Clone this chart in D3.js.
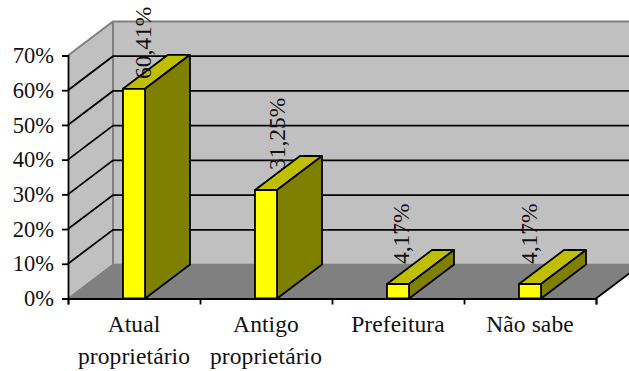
<!DOCTYPE html>
<html lang="pt">
<head>
<meta charset="utf-8">
<title>Gráfico de colunas</title>
<style>
  html, body { margin: 0; padding: 0; background: #fff; }
  svg { display: block; }
  text { font-family: "Liberation Serif", serif; fill: #111; }
  .tick text { font-size: 22.5px; }
  .cat { font-size: 23.5px; letter-spacing: 0.1px; }
  .val { font-size: 23.5px; }
</style>
<script src="https://cdn.jsdelivr.net/npm/d3@7/dist/d3.min.js"></script>
</head>
<body>
<svg id="chart" width="629" height="371"></svg>
<script>
const categories = ["Atual proprietário", "Antigo proprietário", "Prefeitura", "Não sabe"];
const categoryLines = [["Atual", "proprietário"], ["Antigo", "proprietário"], ["Prefeitura"], ["Não sabe"]];
const values = [60.41, 31.25, 4.17, 4.17];
const valueLabels = ["60,41%", "31,25%", "4,17%", "4,17%"];
const yTicks = [0, 10, 20, 30, 40, 50, 60, 70];

const frame = { left: 68, right: 596, top: 55.5, bottom: 298.5 };
const depth = { dx: 45, dy: -34 };
const colors = {
  wall: "#c0c0c0", floor: "#808080", edge: "#808080", ink: "#000",
  barFront: "#ffff00", barTop: "#bfbf00", barSide: "#808000"
};
const lineWidth = 1.8;
// Sideways shift of each value label from its column centre
const labelShift = [17, 19, 11, 7];

const svg = d3.select("#chart");
const y = d3.scaleLinear().domain([0, 70]).range([frame.bottom, frame.top]);
const x = d3.scaleBand().domain(categories).range([frame.left, frame.right])
  .paddingInner(0.833).paddingOuter(0.4165);
const edges = d3.scaleLinear().domain([0, categories.length]).range([frame.left, frame.right]);

const pts = a => a.map(p => p.join(",")).join(" ");
const back = (px, py) => [px + depth.dx, py + depth.dy];
const y0 = y(0), yMax = y(70), xL = frame.left, xR = frame.right;

// Side wall, back wall and floor
svg.append("polygon").attr("points", pts([[xL, y0], [xL, yMax], back(xL, yMax), back(xL, y0)]))
  .attr("fill", colors.wall);
svg.append("polygon").attr("points", pts([back(xL, y0), back(xL, yMax), back(xR, yMax), back(xR, y0)]))
  .attr("fill", colors.wall);
svg.append("polygon").attr("points", pts([[xL, y0], [xR, y0], back(xR, y0), back(xL, y0)]))
  .attr("fill", colors.floor);

// Wall outlines
svg.append("polyline").attr("fill", "none").attr("stroke", colors.edge).attr("stroke-width", 2)
  .attr("points", pts([[xL, yMax], back(xL, yMax), back(xR, yMax)]));
svg.append("line").attr("stroke", colors.edge).attr("stroke-width", 2)
  .attr("x1", back(xL, yMax)[0]).attr("x2", back(xL, y0)[0])
  .attr("y1", back(xL, yMax)[1]).attr("y2", back(xL, y0)[1]);
svg.append("polyline").attr("fill", "none").attr("stroke", colors.edge).attr("stroke-width", 1.5)
  .attr("points", pts([[xL, y0], back(xL, y0), back(xR, y0)]));

// Gridlines run across the side wall and then along the back wall
svg.append("g").selectAll("polyline").data(yTicks.filter(t => t > 0 && t < 70)).join("polyline")
  .attr("fill", "none").attr("stroke", colors.ink).attr("stroke-width", lineWidth)
  .attr("points", t => pts([[xL, y(t)], back(xL, y(t)), back(xR, y(t))]));

// Floor's open right edge
svg.append("line").attr("stroke", colors.ink).attr("stroke-width", lineWidth)
  .attr("x1", xR).attr("y1", y0).attr("x2", back(xR, y0)[0]).attr("y2", back(xR, y0)[1]);

// Columns: top, side, front
const bars = svg.append("g").attr("stroke", colors.ink).attr("stroke-width", lineWidth)
  .attr("stroke-linejoin", "round")
  .selectAll("g").data(categories).join("g");
bars.append("polygon").attr("fill", colors.barTop).attr("points", (c, i) => {
  const a = x(c), b = a + x.bandwidth(), t = y(values[i]);
  return pts([[a, t], [b, t], back(b, t), back(a, t)]);
});
bars.append("polygon").attr("fill", colors.barSide).attr("points", (c, i) => {
  const b = x(c) + x.bandwidth(), t = y(values[i]);
  return pts([[b, t], [b, y0], back(b, y0), back(b, t)]);
});
bars.append("rect").attr("fill", colors.barFront)
  .attr("x", c => x(c)).attr("width", x.bandwidth())
  .attr("y", (c, i) => y(values[i])).attr("height", (c, i) => y0 - y(values[i]));

// Value axis
const yAxis = svg.append("g").attr("transform", `translate(${xL},0)`)
  .call(d3.axisLeft(y).tickValues(yTicks).tickFormat(d => d + "%").tickSize(6).tickPadding(8));
yAxis.select(".domain").attr("stroke", colors.ink).attr("stroke-width", lineWidth);
yAxis.selectAll("line").attr("stroke", colors.ink).attr("stroke-width", lineWidth);
yAxis.selectAll("text").attr("dy", "0.32em");

// Category axis: ticks mark the boundaries between categories
const xAxis = svg.append("g").attr("transform", `translate(0,${y0})`)
  .call(d3.axisBottom(edges).tickValues(d3.range(categories.length + 1)).tickFormat("").tickSize(6));
xAxis.select(".domain").attr("stroke", colors.ink).attr("stroke-width", lineWidth);
xAxis.selectAll("line").attr("stroke", colors.ink).attr("stroke-width", lineWidth);

// Category names, wrapped on two lines where needed
const catText = svg.append("g").selectAll("text").data(categories).join("text")
  .attr("class", "cat")
  .attr("text-anchor", "middle")
  .attr("transform", c => `translate(${x(c) + x.bandwidth() / 2},332)`);
catText.selectAll("tspan").data((c, i) => categoryLines[i]).join("tspan")
  .attr("x", 0).attr("y", (d, i) => i * 32).text(d => d);

// Rotated value labels, kept inside the top of the page
const labelLength = 73;
svg.append("g").selectAll("text").data(categories).join("text")
  .attr("class", "val")
  .attr("transform", (c, i) => {
    const ly = Math.max(y(values[i]) - 20, labelLength + 6);
    return `translate(${x(c) + x.bandwidth() / 2 + labelShift[i]},${ly}) rotate(-90)`;
  })
  .text((c, i) => valueLabels[i]);
</script>
</body>
</html>
